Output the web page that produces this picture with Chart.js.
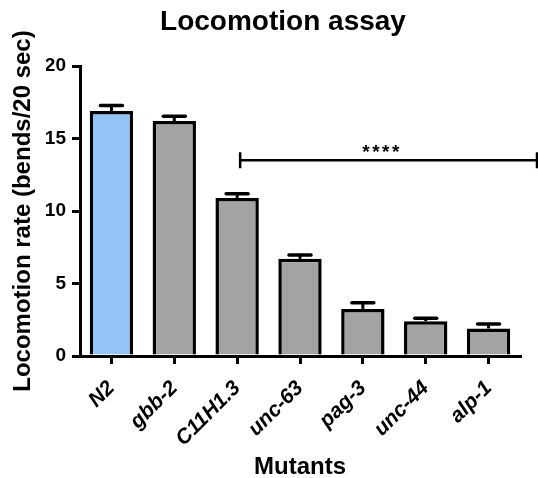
<!DOCTYPE html>
<html>
<head>
<meta charset="utf-8">
<script src="https://cdn.jsdelivr.net/npm/chart.js@4/dist/chart.umd.min.js"></script>
<style>
  html, body { margin: 0; padding: 0; background: #fff; }
  #wrap { width: 538px; height: 478px; }
</style>
</head>
<body>
<div id="wrap"><canvas id="chart"></canvas></div>
<script>
  // ============ 数据 ============
  const CATEGORIES = ['N2', 'gbb-2', 'C11H1.3', 'unc-63', 'pag-3', 'unc-44', 'alp-1'];
  const RATES = [16.9, 16.2, 10.9, 6.7, 3.25, 2.4, 1.9];
  const SEM = [0.37, 0.34, 0.29, 0.27, 0.42, 0.2, 0.3];
  const BAR_COLORS = ['#93c3f7', '#a3a3a3', '#a3a3a3', '#a3a3a3', '#a3a3a3', '#a3a3a3', '#a3a3a3'];
  const Y_TICKS = [0, 5, 10, 15, 20];
  const SIG_FROM = 2;        // bracket starts at C11H1.3
  const SIG_LEVEL = 13.5;    // y value of the bracket
  const SIG_LABEL = '****';

  const FONT = "'Liberation Sans', Arial, sans-serif";

  /** 误差棒 (仅向上) */
  const errorBars = {
    id: 'errorBars',
    afterDatasetsDraw(chart) {
      const ctx = chart.ctx;
      const y = chart.scales.y;
      const meta = chart.getDatasetMeta(0);
      ctx.save();
      ctx.strokeStyle = '#000';
      meta.data.forEach(function (bar, i) {
        const top = y.getPixelForValue(RATES[i]);
        const cap = y.getPixelForValue(RATES[i] + SEM[i]);
        ctx.lineWidth = 3;
        ctx.lineCap = 'butt';
        ctx.beginPath();
        ctx.moveTo(bar.x, top);
        ctx.lineTo(bar.x, cap);
        ctx.stroke();
        ctx.lineWidth = 3.5;
        ctx.lineCap = 'round';
        ctx.beginPath();
        ctx.moveTo(bar.x - 11, cap);
        ctx.lineTo(bar.x + 11, cap);
        ctx.stroke();
      });
      ctx.restore();
    }
  };

  /** 显著性标记 */
  const sigBracket = {
    id: 'sigBracket',
    afterDraw(chart) {
      const ctx = chart.ctx;
      const x0 = chart.scales.x.getPixelForValue(SIG_FROM) + 3;
      const x1 = chart.width;
      const yy = chart.scales.y.getPixelForValue(SIG_LEVEL);
      ctx.save();
      ctx.strokeStyle = '#000';
      ctx.lineWidth = 2.5;
      ctx.beginPath();
      ctx.moveTo(x0, yy);
      ctx.lineTo(x1, yy);
      ctx.moveTo(x0, yy - 8);
      ctx.lineTo(x0, yy + 8);
      ctx.moveTo(x1 - 1, yy - 8);
      ctx.lineTo(x1 - 1, yy + 8);
      ctx.stroke();
      ctx.fillStyle = '#000';
      ctx.font = 'bold 19px ' + FONT;
      ctx.letterSpacing = '2.5px';
      ctx.textAlign = 'center';
      ctx.textBaseline = 'alphabetic';
      ctx.fillText(SIG_LABEL, (x0 + chart.chartArea.right) / 2 + 2, yy - 2);
      ctx.restore();
    }
  };

  new Chart(document.getElementById('chart'), {
    type: 'bar',
    data: {
      labels: CATEGORIES,
      datasets: [{
        data: RATES,
        backgroundColor: BAR_COLORS,
        borderColor: '#000',
        borderWidth: 3.5,
        barPercentage: 0.69,
        categoryPercentage: 1,
      }],
    },
    options: {
      responsive: true,
      maintainAspectRatio: false,
      animation: false,
      devicePixelRatio: 1,
      // left padding shifts the title centre to match the reference
      layout: { padding: { left: 46, right: 18, top: 0, bottom: 0 } },
      plugins: {
        legend: { display: false },
        tooltip: { enabled: false },
        title: {
          display: true,
          text: 'Locomotion assay',
          color: '#000',
          font: { family: FONT, size: 28, weight: 'bold', lineHeight: 1 },
          padding: { top: 8, bottom: 30 },
        },
      },
      scales: {
        x: {
          offset: true,
          grid: { display: true, drawOnChartArea: false, drawTicks: true, tickLength: 8, offset: false, color: '#000', lineWidth: 3 },
          border: { display: true, color: '#000', width: 3 },
          ticks: {
            autoSkip: false,
            maxRotation: 45,
            minRotation: 45,
            padding: 12,
            color: '#000',
            font: { family: FONT, size: 21, weight: 'bold', style: 'italic' },
          },
          title: {
            display: true,
            text: 'Mutants',
            color: '#000',
            font: { family: FONT, size: 24, weight: 'bold', lineHeight: 1 },
            padding: { top: 0, bottom: -1 },
          },
          afterFit: function (scale) { scale.height = 122; },
        },
        y: {
          min: 0,
          max: 20,
          afterBuildTicks: function (scale) {
            scale.ticks = Y_TICKS.map(function (v) { return { value: v }; });
          },
          grid: { display: true, drawOnChartArea: false, drawTicks: true, tickLength: 8, color: '#000', lineWidth: 3 },
          border: { display: true, color: '#000', width: 3 },
          ticks: {
            padding: 6,
            color: '#000',
            font: { family: FONT, size: 19, weight: 'bold' },
          },
          title: {
            display: true,
            text: 'Locomotion rate (bends/20 sec)',
            color: '#000',
            font: { family: FONT, size: 24, weight: 'bold', lineHeight: 1 },
            padding: { top: -35, bottom: 0 },
          },
          afterFit: function (scale) { scale.width = 34; },
        },
      },
    },
    plugins: [errorBars, sigBracket],
  });
</script>
</body>
</html>
